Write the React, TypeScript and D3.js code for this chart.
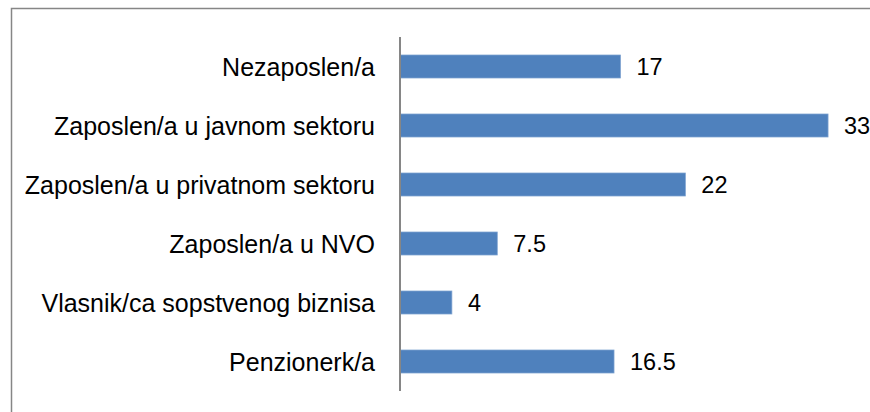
import React, { useEffect, useRef } from 'react';
import * as d3 from 'd3';

// categories top to bottom, values in percent
const categories = [
  'Nezaposlen/a',
  'Zaposlen/a u javnom sektoru',
  'Zaposlen/a u privatnom sektoru',
  'Zaposlen/a u NVO',
  'Vlasnik/ca sopstvenog biznisa',
  'Penzionerk/a',
];
const values = [17, 33, 22, 7.5, 4, 16.5];
const valueLabels = ['17', '33', '22', '7.5', '4', '16.5'];

const width = 870;
const height = 412;
const FONT = 'Liberation Sans, Arial, sans-serif';

export default function App() {
  const node = useRef<SVGSVGElement | null>(null);

  useEffect(() => {
    document.body.style.margin = '0';
    const svg = d3.select(node.current);
    svg.selectAll('*').remove();

    const x = d3.scaleLinear().domain([0, 35]).range([400, 854]);
    const y = d3.scaleBand<number>()
      .domain(d3.range(categories.length))
      .range([37, 391])
      .paddingInner(0.61)
      .paddingOuter(0.305);

    // chart frame (runs off the right and bottom edges)
    svg.append('rect')
      .attr('x', 11.5).attr('y', 8.5)
      .attr('width', 1200).attr('height', 800)
      .attr('fill', 'white')
      .attr('stroke', '#868686')
      .attr('stroke-width', 1.5);

    const bars = svg.append('g')
      .selectAll('g')
      .data(values)
      .enter();

    bars.append('rect')
      .attr('x', x(0))
      .attr('y', (_, i) => y(i)!)
      .attr('width', d => x(d) - x(0))
      .attr('height', y.bandwidth())
      .attr('fill', '#4F81BD')
      .attr('stroke', '#7FA3D0')
      .attr('stroke-width', 0.75);

    bars.append('text')
      .attr('x', d => x(d) + 16)
      .attr('y', (_, i) => y(i)! + y.bandwidth() / 2)
      .attr('dy', '0.36em')
      .attr('font-family', FONT)
      .attr('font-size', 23.5)
      .attr('fill', '#000')
      .text((_, i) => valueLabels[i]);

    svg.append('g')
      .selectAll('text')
      .data(categories)
      .enter()
      .append('text')
      .attr('x', 375)
      .attr('y', (_, i) => y(i)! + y.bandwidth() / 2)
      .attr('dy', '0.36em')
      .attr('text-anchor', 'end')
      .attr('font-family', FONT)
      .attr('font-size', 25)
      .attr('fill', '#000')
      .text(d => d);

    // category axis line
    svg.append('line')
      .attr('x1', x(0)).attr('x2', x(0))
      .attr('y1', 37).attr('y2', 391)
      .attr('stroke', '#868686')
      .attr('stroke-width', 2);
  }, []);

  return (
    <svg
      ref={node}
      width={width}
      height={height}
      style={{ display: 'block' }}
    />
  );
}
